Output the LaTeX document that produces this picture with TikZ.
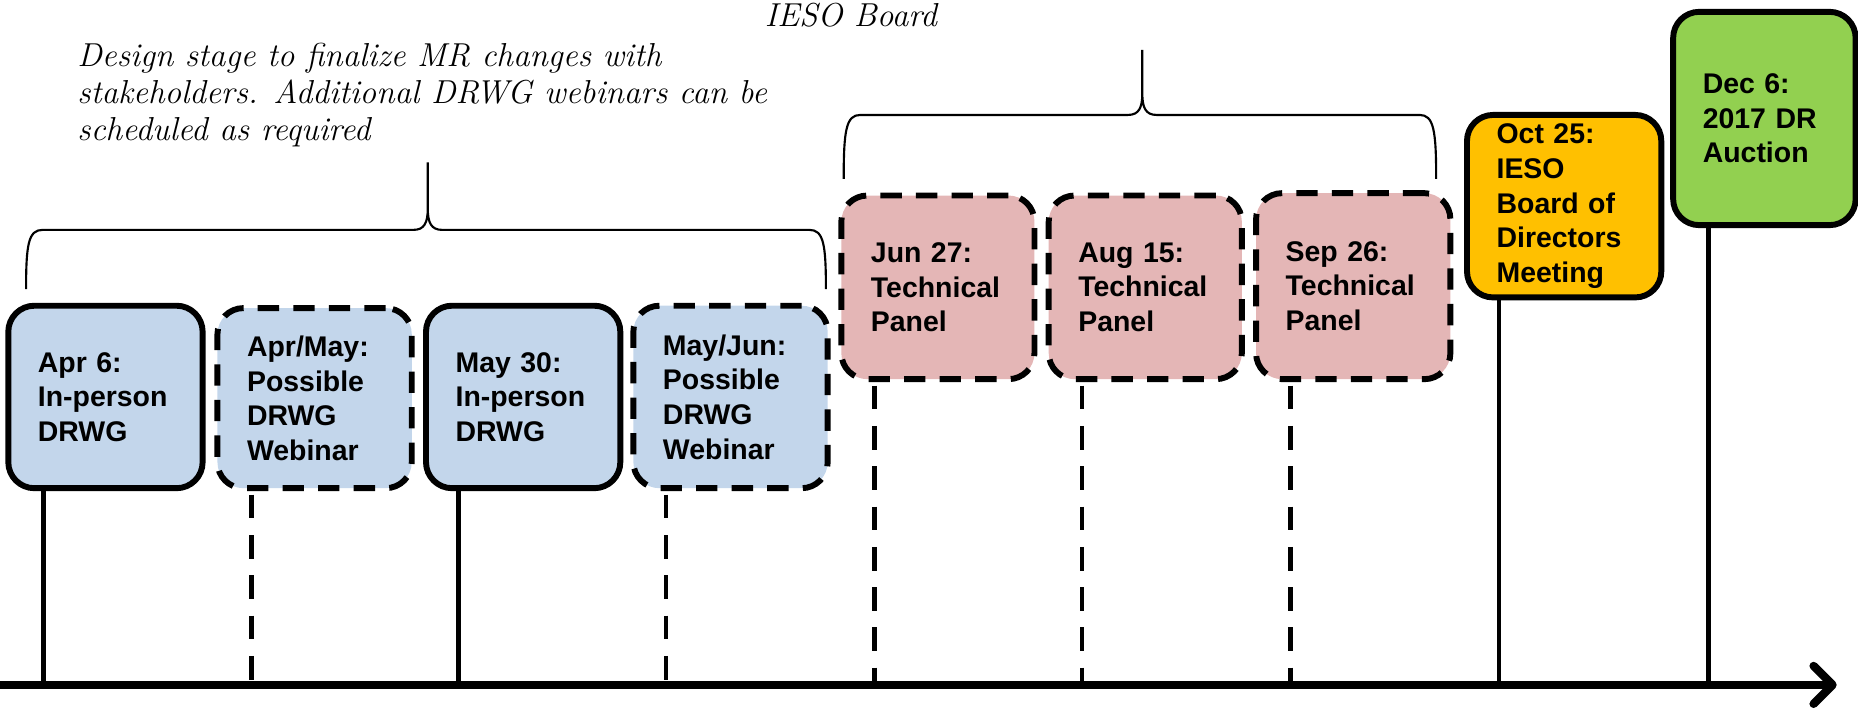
\documentclass[tikz,border=0pt]{standalone}
\usepackage{fontspec}
\setsansfont{Liberation Sans}
\usetikzlibrary{arrows.meta}
\definecolor{boxblue}{HTML}{C3D6EB}
\definecolor{boxpink}{HTML}{E4B6B6}
\definecolor{boxorange}{HTML}{FFC000}
\definecolor{boxgreen}{HTML}{92D050}
\begin{document}
\begin{tikzpicture}[x=0.5pt,y=-0.5pt,
  box/.style={rectangle, rounded corners=11pt, draw=black, line width=2.5pt,
    font=\sffamily\bfseries\fontsize{12}{14.6}\selectfont,
    align=left, inner xsep=12.5pt, inner ysep=0pt},
  solidbox/.style={box},
  dashbox/.style={box, dash pattern=on 9pt off 6pt},
  stem/.style={line width=2pt},
  dashstem/.style={line width=2pt, dash pattern=on 10pt off 7pt},
  axisline/.style={line width=3.5pt, -{Straight Barb[length=8pt,width=16pt,line width=3.5pt,round]}},
  bracepath/.style={line width=0.9pt},
  note/.style={font=\itshape\fontsize{14}{15.6}\selectfont, align=left, inner sep=0pt}]
\useasboundingbox (0,0) rectangle (1568,598);

% axis
\coordinate (ax0) at (0,578);
\coordinate (ax1) at (1550,578);

% boxes
\node[solidbox, fill=boxblue, minimum width=82pt, minimum height=77pt, text width=57pt] (b1) at (89,335) {Apr 6:\\\mbox{In-person}\\DRWG};
\node[dashbox, fill=boxblue, minimum width=82pt, minimum height=76pt, text width=57pt] (b2) at (265.5,336) {Apr/May:\\Possible\\DRWG\\Webinar};
\node[solidbox, fill=boxblue, minimum width=82pt, minimum height=77pt, text width=57pt] (b3) at (441.5,335) {May 30:\\\mbox{In-person}\\DRWG};
\node[dashbox, fill=boxblue, minimum width=82pt, minimum height=77pt, text width=57pt] (b4) at (616.5,335) {May/Jun:\\Possible\\DRWG\\Webinar};
\node[dashbox, fill=boxpink, minimum width=81.5pt, minimum height=77.5pt, text width=56.5pt] (b5) at (791.5,242.5) {Jun 27:\\Technical\\Panel};
\node[dashbox, fill=boxpink, minimum width=81.5pt, minimum height=77.5pt, text width=56.5pt] (b6) at (966.5,242.5) {Aug 15:\\Technical\\Panel};
\node[dashbox, fill=boxpink, minimum width=82pt, minimum height=78.5pt, text width=57pt] (b7) at (1142,241.5) {Sep 26:\\Technical\\Panel};
\node[solidbox, fill=boxorange, minimum width=82pt, minimum height=77pt, text width=57pt] (b8) at (1320,174) {Oct 25:\\IESO\\\mbox{Board of}\\Directors\\Meeting};
\node[solidbox, fill=boxgreen, minimum width=77pt, minimum height=90pt, text width=52pt] (b9) at (1489,100) {Dec 6:\\\mbox{2017 DR}\\Auction};

% stem feet on the axis
\coordinate (t1) at (37,578);
\coordinate (t2) at (212,578);
\coordinate (t3) at (387,578);
\coordinate (t4) at (562,578);
\coordinate (t5) at (738,578);
\coordinate (t6) at (913,578);
\coordinate (t7) at (1089,578);
\coordinate (t8) at (1265,578);
\coordinate (t9) at (1442,578);

\draw[stem] (b1.south -| t1) -- (t1);
\draw[dashstem] ([yshift=-1.5pt]b2.south -| t2) -- (t2);
\draw[stem] (b3.south -| t3) -- (t3);
\draw[dashstem] ([yshift=-1.5pt]b4.south -| t4) -- (t4);
\draw[dashstem] ([yshift=-1.5pt]b5.south -| t5) -- (t5);
\draw[dashstem] ([yshift=-1.5pt]b6.south -| t6) -- (t6);
\draw[dashstem] ([yshift=-1.5pt]b7.south -| t7) -- (t7);
\draw[stem] (b8.south -| t8) -- (t8);
\draw[stem] (b9.south -| t9) -- (t9);

\draw[axisline] (ax0) -- (ax1);

% braces
\draw[bracepath] (22,244) .. controls (22,206) and (24,194) .. (36,194) -- (349,194)
  .. controls (358,194) and (361,188) .. (361,176) -- (361,137)
  -- (361,176) .. controls (361,188) and (364,194) .. (373,194) -- (683,194)
  .. controls (695,194) and (697,206) .. (697,244);
\draw[bracepath] (712,151) .. controls (712,110) and (714,97) .. (726,97) -- (952,97)
  .. controls (961,97) and (964,91) .. (964,79) -- (964,42)
  -- (964,79) .. controls (964,91) and (967,97) .. (976,97) -- (1198,97)
  .. controls (1210,97) and (1212,110) .. (1212,151);

% notes
\node[note, anchor=north west] (n1) at (65,36) {Design stage to finalize MR changes with\\stakeholders. Additional DRWG webinars can be\\scheduled as required};
\node[note, anchor=base west] (n2) at (645,22) {IESO Board};
\end{tikzpicture}
\end{document}
